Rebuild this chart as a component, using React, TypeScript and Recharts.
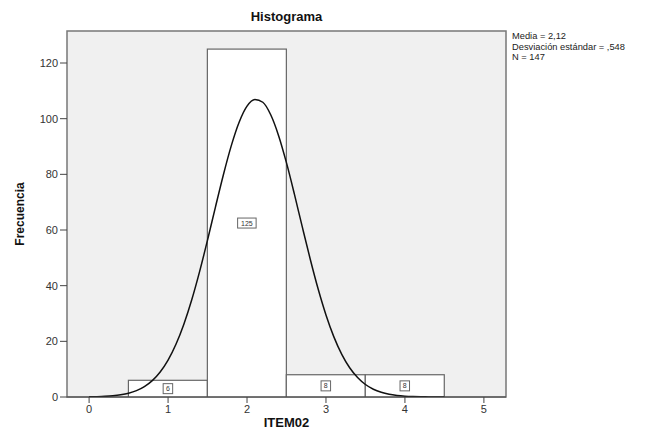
import React from "react";
import {
  Bar,
  ComposedChart,
  Line,
  ReferenceArea,
  XAxis,
  YAxis,
} from "recharts";

// histogram bins (ITEM02) and counts
const binValues = [1, 2, 3, 4];
const binCounts = [6, 125, 8, 8];

// normal curve (x step 0.1)
const curveX = [
  0, 0.1, 0.2, 0.3, 0.4, 0.5, 0.6, 0.7, 0.8, 0.9, 1, 1.1, 1.2, 1.3, 1.4, 1.5,
  1.6, 1.7, 1.8, 1.9, 2, 2.1, 2.2, 2.3, 2.4, 2.5, 2.6, 2.7, 2.8, 2.9, 3, 3.1,
  3.2, 3.3, 3.4, 3.5, 3.6, 3.7, 3.8, 3.9, 4, 4.1, 4.2, 4.3, 4.4, 4.5,
];
const curveY = [
  0.06, 0.12, 0.23, 0.43, 0.78, 1.35, 2.28, 3.73, 5.88, 8.98, 13.25, 18.93,
  26.15, 34.93, 45.14, 56.42, 68.23, 79.77, 90.22, 98.72, 104.5, 106.9, 105.9,
  101.4, 93.9, 84.1, 72.9, 61.1, 49.6, 38.9, 29.5, 21.6, 15.3, 10.5, 7.0, 4.49,
  2.79, 1.68, 0.97, 0.55, 0.3, 0.16, 0.08, 0.04, 0.02, 0.01,
];

const xTicks = [0, 1, 2, 3, 4, 5];
const yTicks = [0, 20, 40, 60, 80, 100, 120];
const statLines = ["Media = 2,12", "Desviación estándar = ,548", "N = 147"];

const data = curveX.map((x, i) => {
  const b = binValues.indexOf(x);
  return { x, curve: curveY[i], freq: b >= 0 ? binCounts[b] : undefined };
});

const FONT = "Arial, 'Liberation Sans', sans-serif";
const BIN_PX = 79; // one unit on the x axis

function HistBar(props: any) {
  const { x, y, width, height, payload } = props;
  if (payload?.freq == null) return null;
  const label = String(payload.freq);
  const bw = label.length * 4.5 + 5;
  const cx = x + width / 2;
  const cy = y + height / 2;
  return (
    <g>
      <rect x={cx - BIN_PX / 2} y={y} width={BIN_PX} height={height} fill="#ffffff" stroke="#666666" strokeWidth={1.2} />
      <rect x={cx - bw / 2} y={cy - 5} width={bw} height={10} fill="#ffffff" stroke="#666666" strokeWidth={1} />
      <text x={cx} y={cy + 2.5} textAnchor="middle" fontSize={7} fill="#333" fontFamily={FONT}>
        {label}
      </text>
    </g>
  );
}

export default function App() {
  return (
    <div style={{ position: "absolute", left: 0, top: 0, width: 657, height: 435, background: "#fff", fontFamily: FONT }}>
      <ComposedChart
        width={657}
        height={435}
        data={data}
        margin={{ top: 31, right: 151, bottom: 0, left: 0 }}
      >
        <ReferenceArea
          x1={-0.28}
          x2={5.28}
          y1={0}
          y2={131.5}
          fill="#f0f0f0"
          fillOpacity={1}
          stroke="#777777"
          strokeWidth={1.5}
          ifOverflow="visible"
        />
        <XAxis
          type="number"
          dataKey="x"
          domain={[-0.28, 5.28]}
          ticks={xTicks}
          allowDataOverflow
          height={38}
          tickSize={6}
          tickMargin={2}
          stroke="#444"
          tick={{ fontSize: 11, fill: "#333", fontFamily: FONT }}
        />
        <YAxis
          type="number"
          domain={[0, 131.5]}
          ticks={yTicks}
          allowDataOverflow
          width={67}
          axisLine={false}
          tickSize={7}
          tickMargin={2}
          tickLine={{ stroke: "#444" }}
          tick={{ fontSize: 11, fill: "#333", fontFamily: FONT }}
        />
        <Bar dataKey="freq" shape={<HistBar />} isAnimationActive={false} />
        <Line
          dataKey="curve"
          type="monotone"
          stroke="#111"
          strokeWidth={1.5}
          dot={false}
          activeDot={false}
          isAnimationActive={false}
        />
      </ComposedChart>
      <div style={{ position: "absolute", left: 67, width: 439, top: 9, textAlign: "center", fontWeight: "bold", fontSize: 13, lineHeight: "16px", color: "#111" }}>
        Histograma
      </div>
      <div style={{ position: "absolute", left: 67, width: 439, top: 415, textAlign: "center", fontWeight: "bold", fontSize: 13, lineHeight: "16px", color: "#111" }}>
        ITEM02
      </div>
      <div
        style={{
          position: "absolute",
          left: 20,
          top: 214,
          transform: "translate(-50%, -50%) rotate(-90deg)",
          fontWeight: "bold",
          fontSize: 12,
          lineHeight: "14px",
          whiteSpace: "nowrap",
          color: "#111",
        }}
      >
        Frecuencia
      </div>
      <div style={{ position: "absolute", left: 512, top: 31, fontSize: 9.3, lineHeight: "10.5px", color: "#222" }}>
        {statLines.map((s) => (
          <div key={s}>{s}</div>
        ))}
      </div>
    </div>
  );
}
